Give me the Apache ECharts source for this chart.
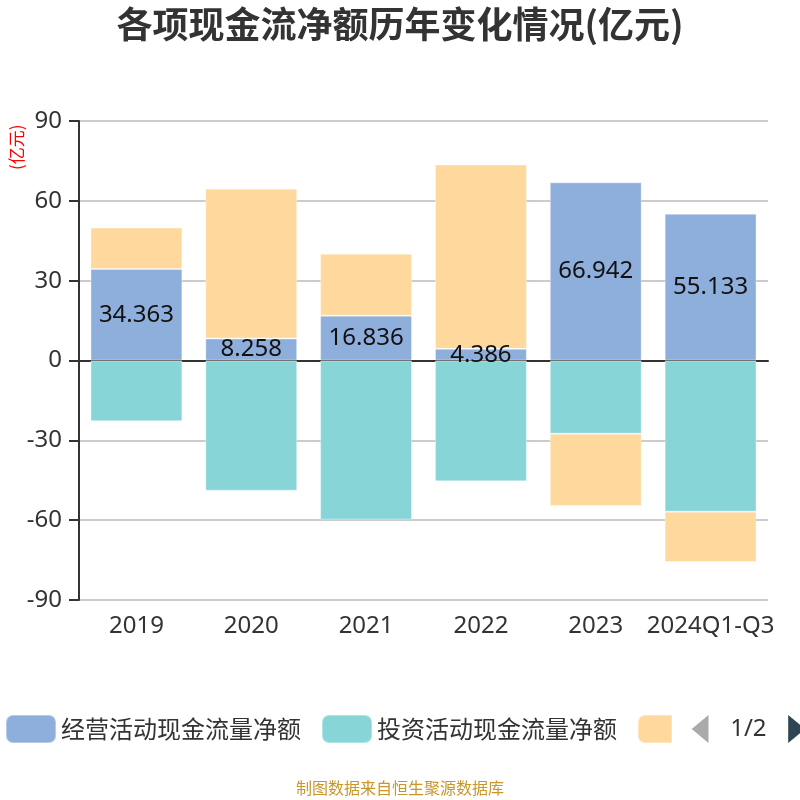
<!DOCTYPE html>
<html>
<head>
<meta charset="utf-8">
<script src="https://cdn.jsdelivr.net/npm/echarts@6/dist/echarts.min.js"></script>
<style>
  html, body { margin: 0; padding: 0; background: #fff; }
  #chart { width: 800px; height: 800px; }
</style>
</head>
<body>
<div id="chart"></div>
<script>
const years = ['2019', '2020', '2021', '2022', '2023', '2024Q1-Q3']
const operating = [34.363, 8.258, 16.836, 4.386, 66.942, 55.133]
const investing = [-22.8, -48.9, -59.8, -45.4, -27.5, -56.8]
const financing = [15.6, 56.3, 23.3, 69.3, -27.2, -18.9]
const seriesNames = ['经营活动现金流量净额', '投资活动现金流量净额', '筹资活动现金流量净额']

const font = '"Noto Sans", "Noto Sans CJK SC", sans-serif'
const cjk = '"Noto Sans CJK SC", sans-serif'
const chart = echarts.init(document.getElementById('chart'))

chart.setOption({
  animation: false,
  backgroundColor: '#fff',
  textStyle: { fontFamily: font },
  color: ['#8eaedb', '#88d5d8', '#fed89c'],
  title: {
    text: '各项现金流净额历年变化情况(亿元)',
    left: 'center',
    top: 1,
    textStyle: { fontSize: 36, fontWeight: 'bold', color: '#333', fontFamily: cjk }
  },
  legend: {
    type: 'scroll',
    bottom: 51,
    left: 0,
    width: 800,
    itemWidth: 50,
    itemHeight: 28,
    itemGap: 20,
    icon: 'roundRect',
    textStyle: { fontSize: 24, color: '#333', fontFamily: cjk },
    pageIconSize: [17, 28],
    pageButtonItemGap: 10,
    pageTextStyle: { fontSize: 24, color: '#333' },
    pageIconColor: '#2f4554',
    pageIconInactiveColor: '#aaa',
    data: seriesNames
  },
  graphic: [
    {
      type: 'text',
      left: 'center',
      bottom: 4,
      style: { text: '制图数据来自恒生聚源数据库', fontSize: 16, fill: '#c8962a', fontFamily: cjk }
    },
    {
      type: 'text',
      x: 8,
      y: 170,
      rotation: Math.PI / 2,
      style: { text: '(亿元)', fontSize: 17, fill: 'red', fontFamily: cjk }
    }
  ],
  grid: { left: 79, right: 32, top: 121, bottom: 200, outerBoundsMode: 'none', containLabel: false },
  xAxis: [
    {
      type: 'category',
      data: years,
      axisLine: { onZero: true, lineStyle: { color: '#333', width: 2 } },
      axisTick: { lineStyle: { color: '#333', width: 2 }, length: 6 },
      axisLabel: { show: false }
    },
    {
      type: 'category',
      data: years,
      position: 'bottom',
      axisLine: { show: false, onZero: false },
      axisTick: { show: false },
      axisLabel: { fontSize: 24, color: '#333', margin: 14, interval: 0 }
    }
  ],
  yAxis: {
    type: 'value',
    min: -90,
    max: 90,
    interval: 30,
    axisLine: { show: true, lineStyle: { color: '#333', width: 2 } },
    axisTick: { show: true, length: 10, lineStyle: { color: '#333', width: 2 } },
    axisLabel: { fontSize: 24, color: '#333', margin: 17 },
    splitLine: { lineStyle: { color: '#ccc', width: 2 } }
  },
  series: [
    {
      name: seriesNames[0], type: 'bar', stack: 'cash', barWidth: '80%', data: operating,
      itemStyle: { borderColor: 'rgba(255,255,255,0.35)', borderWidth: 1 },
      label: { show: true, position: 'inside', fontSize: 24, color: '#111' }
    },
    {
      name: seriesNames[1], type: 'bar', stack: 'cash', barWidth: '80%', data: investing,
      itemStyle: { borderColor: 'rgba(255,255,255,0.35)', borderWidth: 1 }
    },
    {
      name: seriesNames[2], type: 'bar', stack: 'cash', barWidth: '80%', data: financing,
      itemStyle: { borderColor: 'rgba(255,255,255,0.35)', borderWidth: 1 }
    }
  ]
})
</script>
</body>
</html>
